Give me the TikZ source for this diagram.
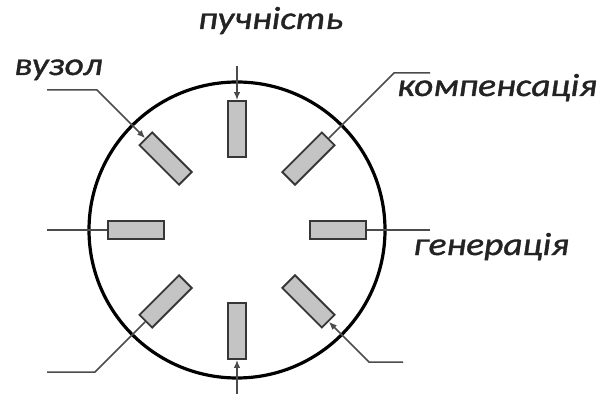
\documentclass[tikz,border=0pt]{standalone}
\usepackage{fontspec}
\setmainfont{Carlito}
\newfontfamily\lblfont[FakeStretch=1.17,FakeBold=1.2]{Carlito}
\usetikzlibrary{arrows.meta,calc}
\definecolor{rectfill}{RGB}{196,196,196}
\definecolor{rectline}{RGB}{55,55,55}
\definecolor{leadline}{RGB}{75,75,75}
\definecolor{txt}{RGB}{35,35,35}
\tikzset{
  bar/.style={draw=rectline, line width=1.8pt, fill=rectfill, rectangle,
    minimum width=56pt, minimum height=18pt, inner sep=0pt},
  lead/.style={draw=leadline, line width=1.5pt},
  arr/.style={lead, -{Latex[length=8pt,width=6.5pt]}},
  lbl/.style={inner sep=0pt, anchor=base west, text=txt, font=\lblfont\fontsize{32}{38}\selectfont\itshape},
}
\begin{document}
\begin{tikzpicture}[x=1pt,y=1pt]
\useasboundingbox (0,0) rectangle (608,394);
\coordinate (C) at (237,164);
\draw[line width=3.2pt] (C) circle (148);
\foreach \a/\n in {90/N,45/NE,0/E,315/SE,270/S,225/SW,180/W,135/NW}{
  \node[bar, rotate=\a] (r\n) at ($(C)+(\a:101)$) {};
}
% top
\coordinate (tN) at (237,328);
\draw[arr] (tN) -- (rN.east);
% bottom
\coordinate (tS) at (237,0);
\draw[arr] (tS) -- (rS.east);
% left / right
\coordinate (tW) at (47,164);
\draw[lead] (tW) -- (rW.east);
\coordinate (tE) at (430,164);
\draw[lead] (rE.east) -- (tE);
% NW
\coordinate (bNW) at (97,304);
\coordinate (tNW) at (47,304);
\draw[arr] (tNW) -- (bNW) -- (rNW.east);
% NE
\coordinate (bNE) at (394,321);
\coordinate (tNE) at (430,321);
\draw[lead] (rNE.east) -- (bNE) -- (tNE);
% SE
\coordinate (bSE) at (369,32);
\coordinate (tSE) at (403,32);
\draw[arr] (tSE) -- (bSE) -- (rSE.east);
% SW
\coordinate (bSW) at (95,22);
\coordinate (tSW) at (47,22);
\draw[lead] (rSW.east) -- (bSW) -- (tSW);
% labels
\node[lbl] (lP) at (198,365) {пучність};
\node[lbl] (lV) at (14,319) {вузол};
\node[lbl] (lK) at (397,298) {компенсація};
\node[lbl] (lG) at (413,139) {генерація};
\end{tikzpicture}
\end{document}
